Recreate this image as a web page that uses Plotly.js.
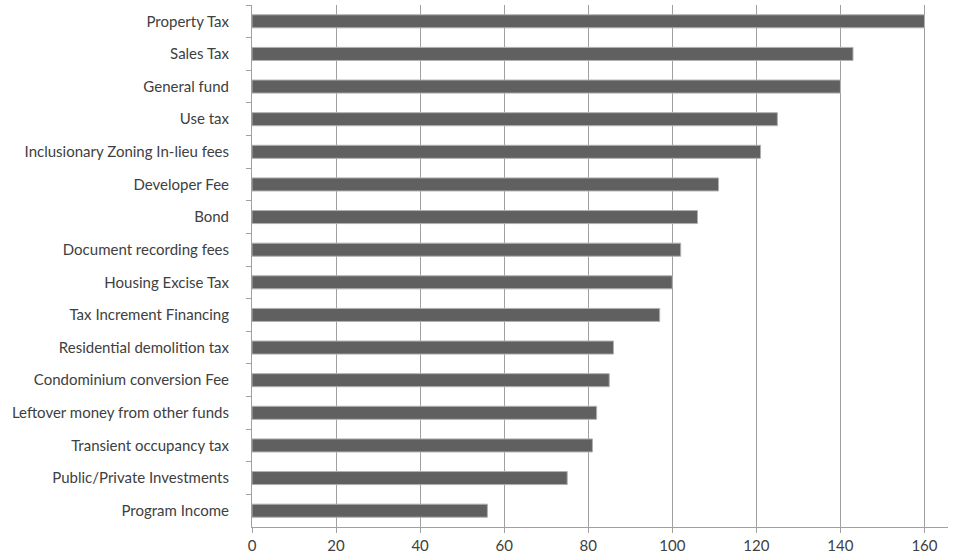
<!DOCTYPE html>
<html>
<head>
<meta charset="utf-8">
<script src="https://cdn.plot.ly/plotly-3.0.1.min.js"></script>
<style>html,body{margin:0;padding:0;background:#fff}#chart{width:956px;height:558px}</style>
</head>
<body>
<div id="chart"></div>
<script>
const categories = [
  "Property Tax", "Sales Tax", "General fund", "Use tax",
  "Inclusionary Zoning In-lieu fees", "Developer Fee", "Bond",
  "Document recording fees", "Housing Excise Tax", "Tax Increment Financing",
  "Residential demolition tax", "Condominium conversion Fee",
  "Leftover money from other funds", "Transient occupancy tax",
  "Public/Private Investments", "Program Income"
];
const values = [160, 143, 140, 125, 121, 111, 106, 102, 100, 97, 86, 85, 82, 81, 75, 56];
const xTicks = [0, 20, 40, 60, 80, 100, 120, 140, 160];

const trace = {
  type: 'bar',
  orientation: 'h',
  x: values,
  y: categories,
  marker: {color: '#606060', line: {color: '#b0b0b0', width: 1}},
  hoverinfo: 'x+y'
};

const layout = {
  width: 956, height: 558,
  margin: {l: 252, r: 8, t: 5, b: 31, pad: 0},
  paper_bgcolor: '#fff', plot_bgcolor: '#fff',
  showlegend: false,
  bargap: 0.6,
  font: {family: 'Lato, "Open Sans", sans-serif', size: 15, color: '#404040'},
  xaxis: {
    range: [0, 165.6],
    tickvals: xTicks,
    ticktext: xTicks.map(String),
    showgrid: true, gridcolor: '#a0a0a0', gridwidth: 1,
    zeroline: false,
    showline: true, linecolor: '#a0a0a0', linewidth: 1,
    ticks: 'outside', ticklen: 5, tickcolor: '#a0a0a0',
    tickfont: {size: 15, color: '#404040'}
  },
  yaxis: {
    type: 'category',
    categoryorder: 'array', categoryarray: categories,
    autorange: 'reversed',
    showgrid: false, zeroline: false,
    showline: true, linecolor: '#a0a0a0', linewidth: 1,
    ticks: 'outside', ticklen: 5, tickcolor: '#a0a0a0',
    tickson: 'boundaries',
    ticklabelstandoff: 19,
    tickfont: {size: 15, color: '#404040'}
  }
};

Plotly.newPlot('chart', [trace], layout, {displayModeBar: false, staticPlot: true});
</script>
</body>
</html>
